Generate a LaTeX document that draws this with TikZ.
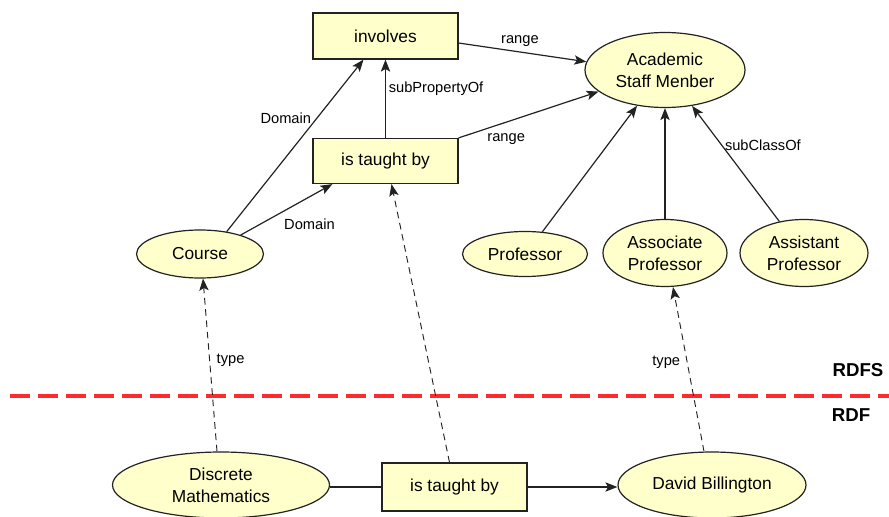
\documentclass[tikz,border=0pt]{standalone}
\usepackage{fontspec}
\setmainfont{Liberation Sans}
\usetikzlibrary{shapes.geometric,arrows.meta,calc}

\definecolor{nodefill}{HTML}{FFFFCC}
\definecolor{edgecol}{HTML}{222222}
\definecolor{seprule}{HTML}{FF2B2B}

\begin{document}
\begin{tikzpicture}[x=0.75pt,y=-0.75pt,
  every node/.style={text=black},
  propbox/.style={draw=edgecol, line width=0.9pt, fill=nodefill, rectangle,
    inner sep=0pt, font=\fontsize{13}{16.5}\selectfont, align=center},
  classnode/.style={draw=edgecol, line width=0.9pt, fill=nodefill, ellipse,
    inner sep=0pt, font=\fontsize{13}{16.5}\selectfont, align=center},
  lbl/.style={font=\fontsize{11}{13}\selectfont, inner sep=1pt},
  layer/.style={font=\bfseries\fontsize{14}{16}\selectfont, inner sep=0pt},
  rel/.style={draw=edgecol, line width=0.9pt, -{Stealth[length=9pt,width=7pt,inset=2pt]}},
  inst/.style={draw=edgecol, line width=0.7pt, dash pattern=on 5pt off 3.5pt,
    -{Stealth[length=9pt,width=7pt,inset=2pt]}},
  plain/.style={draw=edgecol, line width=0.9pt}
]
\useasboundingbox (0,0) rectangle (889,517);

% schema level (RDFS)
\node[propbox, minimum width=108.75pt, minimum height=34.5pt]  (inv)    at (385.5,36)  {involves};
\node[propbox, minimum width=108.75pt, minimum height=33.75pt] (itb)    at (385.5,161) {is taught by};
\node[classnode, minimum width=120pt, minimum height=56.25pt]  (asm)    at (665,70)    {Academic\\Staff Menber};
\node[classnode, minimum width=95.25pt, minimum height=36pt]   (course) at (200,254)   {Course};
\node[classnode, minimum width=93.75pt, minimum height=33.75pt](prof)   at (525,254)   {Professor};
\node[classnode, minimum width=93pt, minimum height=50.25pt]   (assoc)  at (665,253)   {Associate\\Professor};
\node[classnode, minimum width=96pt, minimum height=50.25pt]   (asst)   at (804,253)   {Assistant\\Professor};

% instance level (RDF)
\node[classnode, minimum width=162.75pt, minimum height=49.5pt] (dm)   at (221,485) {Discrete\\Mathematics};
\node[propbox, minimum width=108.75pt, minimum height=36pt]     (itb2) at (454.5,487) {is taught by};
\node[classnode, minimum width=141pt, minimum height=49.5pt]    (db)   at (712,485) {David Billington};

% layer separator
\coordinate (sepL) at (10,396);
\coordinate (sepR) at (889,396);
\draw[seprule, line width=2.6pt, dash pattern=on 15pt off 6pt] (sepL) -- (sepR);
\node[layer] (rdfs) at (858,370) {RDFS};
\node[layer] (rdf)  at (851,415) {RDF};

% property relations
\draw[rel] (course.40) -- ($(inv.south)+(-22,0)$)
  node[lbl, pos=0.66, left=3pt] {Domain};
\draw[rel] (course.25) -- ($(itb.south west)+(20,0)$)
  node[lbl, pos=0.75, below=15pt] {Domain};
\draw[rel] (itb.north) -- (inv.south)
  node[lbl, pos=0.63, right=1pt] {subPropertyOf};
\draw[rel] ($(inv.east)+(0,7)$) -- (asm.174)
  node[lbl, pos=0.48, above=3pt] {range};
\draw[rel] (itb.north east) -- (asm.198)
  node[lbl, pos=0.34, below=7pt] {range};

% class hierarchy
\draw[rel] (prof.52) -- (asm.232);
\draw[rel] (assoc.north) -- (asm.south);
\draw[rel] (asst.128) -- (asm.307)
  node[lbl, pos=0.66, right=1pt] {subClassOf};

% instance statement
\draw[plain] (dm.east |- itb2.west) -- (itb2.west);
\draw[rel] (itb2.east) -- (db.west |- itb2.east);

% typing links across layers
\draw[inst] ($(dm.north)+(-4,0)$) -- ($(course.south)+(3,0)$)
  node[lbl, pos=0.53, right=4pt] {type};
\draw[inst] ($(itb2.north)+(-5,0)$) -- ($(itb.south)+(6,0)$);
\draw[inst] ($(db.north)+(-8,0)$) -- ($(assoc.south)+(8,0)$)
  node[lbl, pos=0.54, left=4pt] {type};
\end{tikzpicture}
\end{document}
